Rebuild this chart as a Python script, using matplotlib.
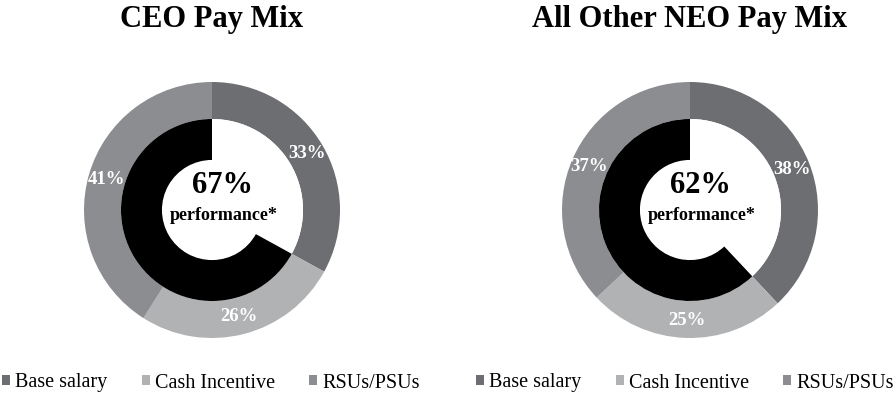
import matplotlib
matplotlib.use('Agg')
import matplotlib.pyplot as plt
from matplotlib.patches import Patch

plt.rcParams['font.family'] = ['Liberation Serif', 'DejaVu Serif']

# Pay mix data (percent of target pay)
categories = ['Base salary', 'Cash Incentive', 'RSUs/PSUs']
titles = ['CEO Pay Mix', 'All Other NEO Pay Mix']
ceo_mix = [33, 26, 41]
neo_mix = [38, 25, 37]
mixes = [ceo_mix, neo_mix]

colors = ['#6d6e71', '#b1b2b4', '#8c8d90']

W, H = 894, 396
fig = plt.figure(figsize=(W / 100, H / 100), dpi=100)

R = 128  # outer radius in pixels
centers = [(212, 210), (690, 210)]
legend_x = [211, 685]

for (cx, cy), lx, mix, title in zip(centers, legend_x, mixes, titles):
    ax = fig.add_axes([(cx - R) / W, (H - cy - R) / H, 2 * R / W, 2 * R / H])
    # outer ring: the three pay elements
    ax.pie(mix, radius=1, colors=colors, startangle=90, counterclock=False,
           wedgeprops=dict(width=0.289, linewidth=0),
           autopct=lambda p: '{:.0f}%'.format(p), pctdistance=0.86,
           textprops=dict(color='white', fontweight='bold', fontsize=13.5))
    # inner ring: fixed vs performance based
    perf = sum(mix[1:])
    ax.pie([mix[0], perf], radius=0.711, colors=['white', 'black'],
           startangle=90, counterclock=False,
           wedgeprops=dict(width=0.32, linewidth=0))
    ax.text(0.08, 0.19, '{}%'.format(perf), ha='center', va='center',
            fontsize=22, fontweight='bold')
    ax.text(0.09, -0.04, 'performance*', ha='center', va='center',
            fontsize=13, fontweight='bold')
    ax.set_xlim(-1, 1)
    ax.set_ylim(-1, 1)
    ax.set_aspect('equal')
    ax.axis('off')

    fig.text(cx / W, 1 - 20 / H, title, ha='center', va='center',
             fontsize=22, fontweight='bold')

    handles = [Patch(facecolor=c, edgecolor='none') for c in colors]
    fig.legend(handles, categories, loc='center', ncol=3,
               bbox_to_anchor=(lx / W, 13 / H), frameon=False,
               fontsize=14.5, handlelength=0.4, handleheight=0.4,
               handletextpad=0.25, columnspacing=1.7, borderaxespad=0,
               borderpad=0)

fig.savefig('out.png', dpi=100)
